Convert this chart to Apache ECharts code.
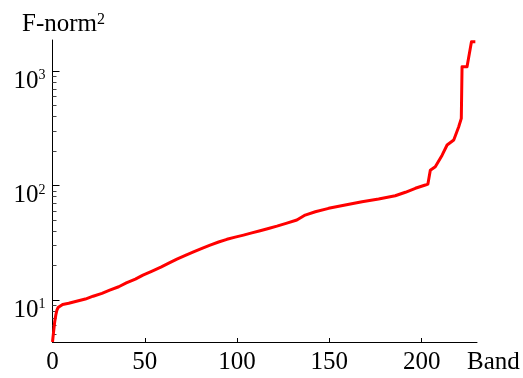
<!DOCTYPE html>
<html>
<head>
<meta charset="utf-8">
<script src="https://cdn.jsdelivr.net/npm/echarts@6/dist/echarts.min.js"></script>
<style>
html,body{margin:0;padding:0;background:#fff;}
#chart{width:523px;height:378px;}
</style>
</head>
<body>
<div id="chart"></div>
<script>
// Band index (x) and F-norm^2 (y)
var bands = [0, 0.6, 1.2, 1.8, 2.4, 3.0, 3.7, 5.5, 8.8, 13, 17.8, 22, 26.8, 31, 35.9, 40, 44.9, 49, 54.0, 59.0, 63, 67.4, 72, 76.4, 81, 85.4, 90, 94.5, 99, 103.5, 108, 112.5, 117, 121.6, 127, 132.4, 136.9, 142.4, 149.6, 158.6, 167.7, 176.7, 185.7, 191.2, 196.6, 202, 203.4, 204.7, 207.4, 211.1, 213.8, 217.4, 220.1, 221.5, 221.9, 224.6, 225.5, 227, 229.1];
var fnorm = [4.3, 5.3, 6.46, 7.4, 8.18, 8.6, 8.92, 9.15, 9.36, 9.75, 10.2, 10.8, 11.44, 12.2, 13.06, 14.1, 15.24, 16.5, 17.9, 19.5, 21.0, 22.8, 24.6, 26.4, 28.3, 30.2, 32.1, 33.9, 35.4, 36.9, 38.6, 40.3, 42.2, 44.2, 47.0, 50.0, 55.2, 59.0, 63.2, 67.6, 72.3, 76.3, 81.4, 87.3, 94.6, 101, 103, 136, 146, 184, 226, 250, 326, 386, 1090, 1090, 1100, 1800, 1800];
var xTicks = [0, 50, 100, 150, 200];
var yMajor = [10, 100, 1000];
var yMinor = [5, 6, 7, 8, 9, 20, 30, 40, 50, 60, 70, 80, 90, 200, 300, 400, 500, 600, 700, 800, 900];

var points = bands.map(function (b, i) { return [b, fnorm[i]]; });
var FONT = 'Liberation Serif';
var chart = echarts.init(document.getElementById('chart'), null, {renderer: 'canvas'});
chart.setOption({
  animation: false,
  backgroundColor: '#fff',
  grid: {left: 52.5, right: 46, top: 40, bottom: 36, containLabel: false},
  xAxis: {
    type: 'value', min: 0, max: 230,
    name: 'Band', nameLocation: 'end', nameGap: -10,
    nameTextStyle: {fontFamily: FONT, fontSize: 25, color: '#000', align: 'left', verticalAlign: 'top', padding: [8, 0, 0, 0]},
    axisLine: {show: true, lineStyle: {color: '#000', width: 1}},
    axisTick: {show: true, inside: true, length: 4, customValues: xTicks, lineStyle: {color: '#000'}},
    axisLabel: {fontFamily: FONT, fontSize: 25, color: '#000', margin: 8, customValues: xTicks},
    splitLine: {show: false}
  },
  yAxis: [{
    type: 'log', min: 4.3, max: 1866, logBase: 10,
    name: 'F-norm{sup|2}', nameLocation: 'end', nameGap: 3,
    nameTextStyle: {fontFamily: FONT, fontSize: 25, color: '#000', align: 'center', padding: [0, 0, 0, 22],
      rich: {sup: {fontFamily: FONT, fontSize: 16, color: '#000', verticalAlign: 'top'}}},
    axisLine: {show: true, lineStyle: {color: '#000', width: 1}},
    axisTick: {show: true, inside: true, length: 7, customValues: yMajor, lineStyle: {color: '#000'}},
    axisLabel: {
      fontFamily: FONT, fontSize: 25, color: '#000', margin: 7, customValues: yMajor,
      padding: [20, 0, 0, 0],
      formatter: function (v) { return '10{sup|' + Math.round(Math.log10(v)) + '}'; },
      rich: {sup: {fontFamily: FONT, fontSize: 14, color: '#000', verticalAlign: 'top'}}
    },
    splitLine: {show: false}
  }, {
    type: 'log', min: 4.3, max: 1866, logBase: 10, position: 'left', offset: 0,
    axisLine: {show: false},
    axisTick: {show: true, inside: true, length: 4, customValues: yMinor, lineStyle: {color: '#444'}},
    axisLabel: {show: false},
    splitLine: {show: false}
  }],
  series: [{
    type: 'line', data: points, yAxisIndex: 0,
    showSymbol: false, symbol: 'none', smooth: false,
    lineStyle: {color: '#ff0000', width: 3, join: 'round'},
    clip: true
  }]
});
</script>
</body>
</html>
